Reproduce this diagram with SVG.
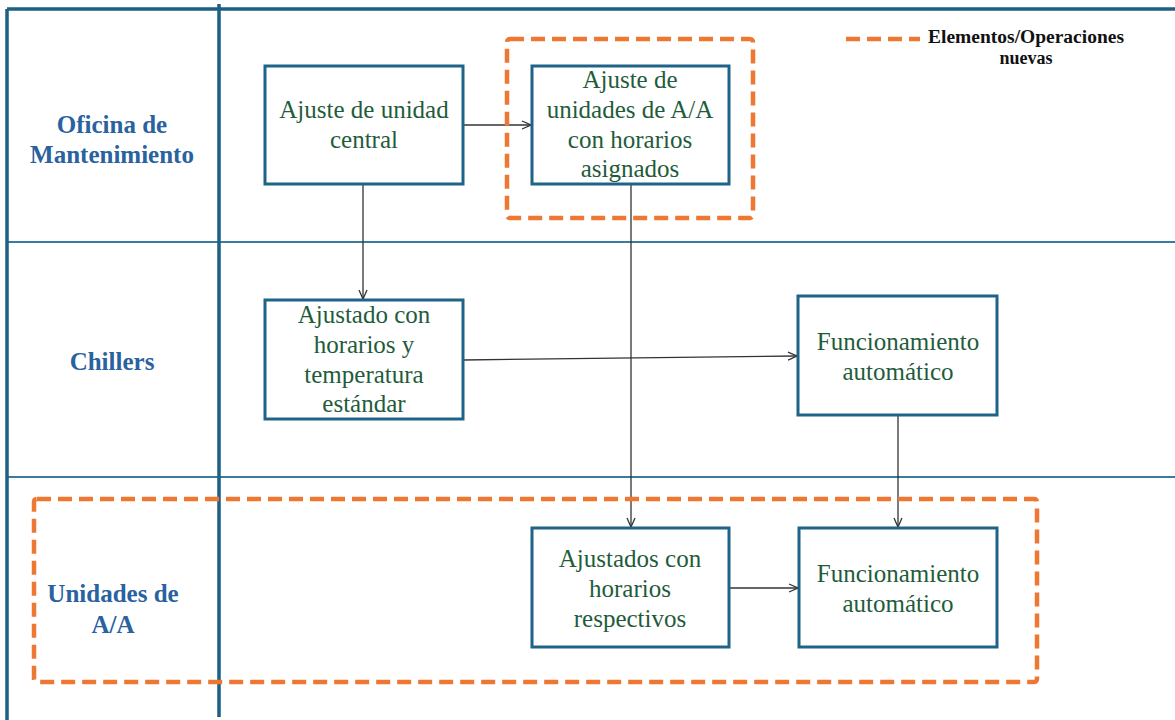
<svg xmlns="http://www.w3.org/2000/svg" width="1175" height="720" viewBox="0 0 1175 720">
<style>
.frame{stroke:#1d5f85;stroke-width:3.5;fill:none}
.lane{stroke:#3a7ba2;stroke-width:2;fill:none}
.box{fill:#fff;stroke:#1f6388;stroke-width:3}
.new{fill:none;stroke:#ed7733;stroke-width:4.5;stroke-dasharray:14 7}
.conn{stroke:#333;stroke-width:1.3;fill:none;marker-end:url(#arr)}
.t{font-family:"Liberation Serif","Times New Roman",serif;font-size:25px;fill:#1f5c3c;text-anchor:middle}
.lbl{font-family:"Liberation Serif","Times New Roman",serif;font-size:25px;font-weight:bold;fill:#2a62a0;text-anchor:middle}
.leg{font-family:"Liberation Serif","Times New Roman",serif;font-size:18px;font-weight:bold;fill:#111;text-anchor:middle}
</style>
<defs>
<marker id="arr" viewBox="0 0 10 10" refX="10" refY="5" markerWidth="10" markerHeight="10" markerUnits="userSpaceOnUse" orient="auto">
<path d="M1,1 L10,5 L1,9" fill="none" stroke="#333" stroke-width="1.3"/>
</marker>
</defs>
<rect width="1175" height="720" fill="#fff"/>
<g id="frame">
<line class="lane" x1="7" y1="242" x2="1175" y2="242"/>
<line class="lane" x1="7" y1="477" x2="1175" y2="477"/>
<line class="frame" x1="7" y1="9" x2="1175" y2="9"/>
<line class="frame" x1="7" y1="9" x2="7" y2="720"/>
<line class="frame" x1="219" y1="4" x2="219" y2="717"/>
</g>
<g id="lane-oficina"><text class="lbl" x="112" y="133">Oficina de</text><text class="lbl" x="112" y="163">Mantenimiento</text></g>
<g id="lane-chillers"><text class="lbl" x="112" y="370">Chillers</text></g>
<g id="lane-unidades"><text class="lbl" x="113" y="602">Unidades de</text><text class="lbl" x="113" y="633">A/A</text></g>
<g id="legend">
<line class="new" x1="846" y1="39" x2="920" y2="39" stroke-dasharray="11 6"/>
<text class="leg" x="1026" y="43" textLength="196" lengthAdjust="spacingAndGlyphs">Elementos/Operaciones</text>
<text class="leg" x="1026" y="64">nuevas</text>
</g>
<g id="connectors">
<line class="conn" x1="463" y1="125" x2="531" y2="125"/>
<line class="conn" x1="363" y1="184" x2="363" y2="299"/>
<line class="conn" x1="463" y1="360" x2="797" y2="356"/>
<line class="conn" x1="631" y1="184" x2="631" y2="527"/>
<line class="conn" x1="898" y1="415" x2="898" y2="527"/>
<line class="conn" x1="729" y1="588" x2="798" y2="588"/>
</g>
<g id="node-ajuste-central">
<rect class="box" x="265" y="66" width="198" height="118"/>
<text class="t" x="364" y="118">Ajuste de unidad</text>
<text class="t" x="364" y="148">central</text>
</g>
<g id="node-ajuste-unidades">
<rect class="box" x="532" y="66" width="197" height="118"/>
<text class="t" x="630" y="88">Ajuste de</text>
<text class="t" x="630" y="118">unidades de A/A</text>
<text class="t" x="630" y="148">con horarios</text>
<text class="t" x="630" y="177">asignados</text>
</g>
<g id="node-ajustado-chillers">
<rect class="box" x="265" y="300" width="198" height="119"/>
<text class="t" x="364" y="323">Ajustado con</text>
<text class="t" x="364" y="353">horarios y</text>
<text class="t" x="364" y="383">temperatura</text>
<text class="t" x="364" y="412">estándar</text>
</g>
<g id="node-func-chillers">
<rect class="box" x="798" y="296" width="199" height="119"/>
<text class="t" x="898" y="350">Funcionamiento</text>
<text class="t" x="898" y="380">automático</text>
</g>
<g id="node-ajustados-respectivos">
<rect class="box" x="532" y="528" width="197" height="119"/>
<text class="t" x="630" y="567">Ajustados con</text>
<text class="t" x="630" y="597">horarios</text>
<text class="t" x="630" y="627">respectivos</text>
</g>
<g id="node-func-unidades">
<rect class="box" x="799" y="528" width="198" height="119"/>
<text class="t" x="898" y="582">Funcionamiento</text>
<text class="t" x="898" y="612">automático</text>
</g>
<g id="new-elements">
<rect class="new" x="507" y="39" width="246" height="179" rx="3"/>
<rect class="new" x="34" y="499" width="1003" height="183" rx="3"/>
</g>
</svg>
